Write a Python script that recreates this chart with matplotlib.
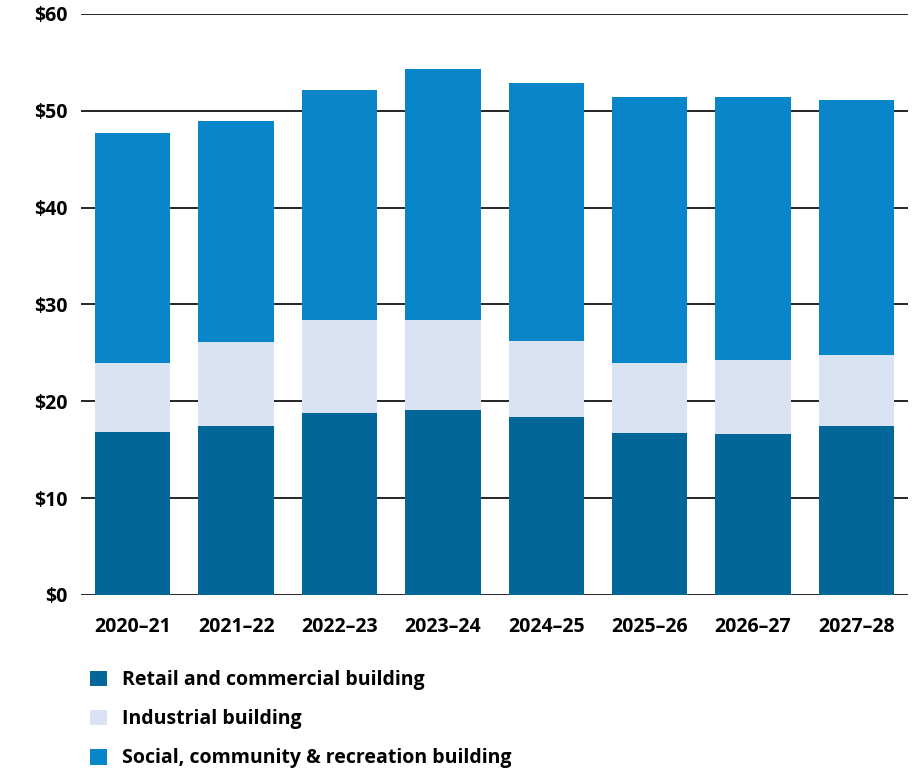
import matplotlib.pyplot as plt
import numpy as np

# data (billions of $)
years = ["2020\u201321", "2021\u201322", "2022\u201323", "2023\u201324",
         "2024\u201325", "2025\u201326", "2026\u201327", "2027\u201328"]
retail = [16.8, 17.5, 18.8, 19.1, 18.4, 16.7, 16.6, 17.4]
industrial = [7.2, 8.6, 9.6, 9.3, 7.8, 7.3, 7.7, 7.4]
social = [23.7, 22.8, 23.7, 25.9, 26.7, 27.4, 27.1, 26.3]

series_names = ["Retail and commercial building", "Industrial building",
                "Social, community & recreation building"]
colors = ["#036698", "#dae3f3", "#0985c9"]

plt.rcParams['font.family'] = ['Open Sans', 'DejaVu Sans']
plt.rcParams['font.weight'] = 'bold'

fig = plt.figure(figsize=(9.22, 7.73), dpi=100)
ax = fig.add_axes([0.0879, 0.2303, 0.8971, 0.7516])

x = np.arange(len(years))
w = 0.73
bottom = np.zeros(len(years))
bars = []
for vals, name, c in zip([retail, industrial, social], series_names, colors):
    b = ax.bar(x, vals, w, bottom=bottom, color=c, label=name, zorder=2)
    bars.append(b)
    bottom += np.array(vals)

ax.set_xlim(-0.5, 7.5)
ax.set_ylim(0, 60)
ax.set_yticks(range(0, 61, 10))
ax.set_yticklabels(["$%d" % v for v in range(0, 61, 10)])
ax.set_xticks(x)
ax.set_xticklabels(years)
ax.yaxis.grid(True, color="black", linewidth=1.2, zorder=0)
ax.set_axisbelow(True)
for s in ax.spines.values():
    s.set_visible(False)
ax.tick_params(axis="y", length=0, pad=10, labelsize=14)
ax.tick_params(axis="x", length=0, pad=16, labelsize=14)

fig.legend(handles=bars, labels=series_names, loc="upper left",
           bbox_to_anchor=(0.098, 0.133), frameon=False, fontsize=14,
           handlelength=0.88, handleheight=0.88, handletextpad=0.75,
           labelspacing=0.98, borderaxespad=0, borderpad=0)

fig.savefig("out.png", dpi=100)
